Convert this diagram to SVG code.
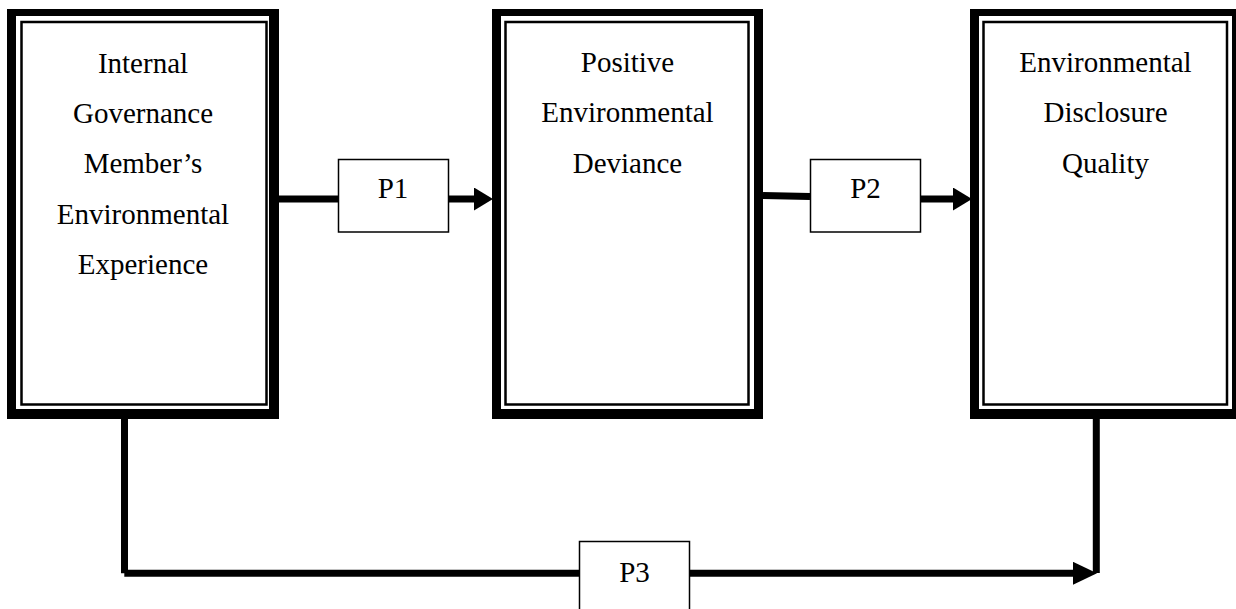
<svg xmlns="http://www.w3.org/2000/svg" width="1236" height="609" viewBox="0 0 1236 609">
<defs>
<style>
.frame{fill:#000;fill-rule:evenodd}
.inner{fill:none;stroke:#000;stroke-width:2.5}
.lbl{font-family:"Liberation Serif","Times New Roman",serif;font-size:29px;fill:#000;text-anchor:middle}
.conn{stroke:#000;stroke-width:7;fill:none;stroke-linecap:butt}
.pbox{fill:#fff;stroke:#000;stroke-width:1.5}
</style>
<marker id="arr" markerUnits="userSpaceOnUse" markerWidth="19" markerHeight="23" viewBox="0 0 19 23" refX="3" refY="11.5" orient="auto">
<path d="M0,0 L19,11.5 L0,23 z" fill="#000"/>
</marker>
<marker id="arr3" markerUnits="userSpaceOnUse" markerWidth="24" markerHeight="23" viewBox="0 0 24 23" refX="3" refY="11.5" orient="auto">
<path d="M0,0 L24,11.5 L0,23 z" fill="#000"/>
</marker>
</defs>
<rect width="1236" height="609" fill="#fff"/>

<g id="node-internal-governance">
<path class="frame" d="M7,9 H279 V419 H7 Z M16,16 V409 H269 V16 Z"/>
<rect class="inner" x="21.5" y="22" width="245" height="382.5"/>
<text class="lbl" x="143" y="72.5">Internal</text>
<text class="lbl" x="143" y="122.5">Governance</text>
<text class="lbl" x="143" y="173">Member’s</text>
<text class="lbl" x="143" y="223.5">Environmental</text>
<text class="lbl" x="143" y="273.5">Experience</text>
</g>

<g id="node-positive-deviance">
<path class="frame" d="M492,9 H763 V419 H492 Z M501,16 V409 H754 V16 Z"/>
<rect class="inner" x="505.5" y="22" width="243" height="382.5"/>
<text class="lbl" x="627.5" y="72">Positive</text>
<text class="lbl" x="627.5" y="122">Environmental</text>
<text class="lbl" x="627.5" y="173">Deviance</text>
</g>

<g id="node-disclosure-quality">
<path class="frame" d="M970,9 H1241 V419 H970 Z M979,16 V409 H1232 V16 Z"/>
<rect class="inner" x="983.5" y="22" width="243.5" height="382.5"/>
<text class="lbl" x="1105.5" y="72">Environmental</text>
<text class="lbl" x="1105.5" y="122">Disclosure</text>
<text class="lbl" x="1105.5" y="173">Quality</text>
</g>

<g id="connectors">
<line class="conn" x1="279" y1="199" x2="338" y2="199"/>
<line class="conn" x1="449" y1="199" x2="477" y2="199" marker-end="url(#arr)"/>
<line class="conn" x1="763" y1="195.5" x2="810" y2="196.5"/>
<line class="conn" x1="921" y1="199" x2="956" y2="199" marker-end="url(#arr)"/>
<line class="conn" x1="124.5" y1="419" x2="124.5" y2="573.3"/>
<line class="conn" x1="124.3" y1="573.3" x2="1076" y2="573.3" marker-end="url(#arr3)"/>
<line class="conn" x1="1096.3" y1="419" x2="1096.3" y2="573"/>
</g>

<g id="label-p1">
<rect class="pbox" x="338.5" y="159.5" width="110" height="72.5"/>
<text class="lbl" x="393" y="198">P1</text>
</g>
<g id="label-p2">
<rect class="pbox" x="810.5" y="159.5" width="110" height="72.5"/>
<text class="lbl" x="865.5" y="198">P2</text>
</g>
<g id="label-p3">
<rect class="pbox" x="579.5" y="541.5" width="110" height="80"/>
<text class="lbl" x="634.5" y="582">P3</text>
</g>
</svg>
